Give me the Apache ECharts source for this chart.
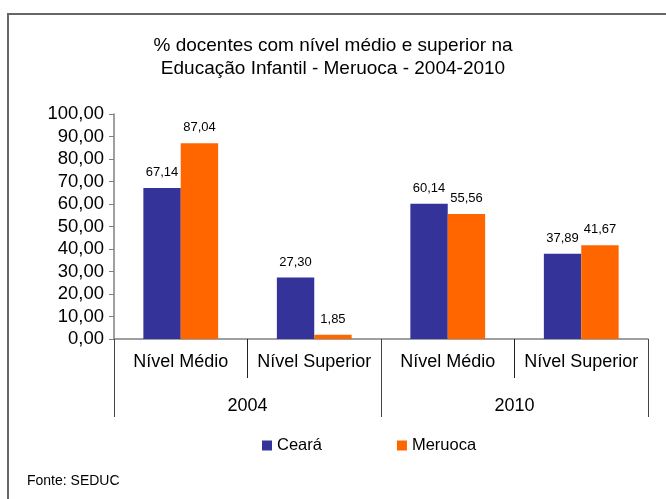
<!DOCTYPE html>
<html>
<head>
<meta charset="utf-8">
<script src="https://cdn.jsdelivr.net/npm/echarts@6/dist/echarts.min.js"></script>
<style>
html,body{margin:0;padding:0;background:#fff;}
#c{width:666px;height:499px;}
</style>
</head>
<body>
<div id="c"></div>
<script>
const categories = ['Nível Médio', 'Nível Superior', 'Nível Médio', 'Nível Superior'];
const years = ['2004', '2010'];
const cearaValues = [67.14, 27.30, 60.14, 37.89];
const meruocaValues = [87.04, 1.85, 55.56, 41.67];
const seriesNames = ['Ceará', 'Meruoca'];
const titleLines = ['% docentes com nível médio e superior na', 'Educação Infantil - Meruoca - 2004-2010'];
const sourceText = 'Fonte: SEDUC';

const FONT = '"Liberation Sans", Arial, sans-serif';
const fmt = v => v.toFixed(2).replace('.', ',');

const chart = echarts.init(document.getElementById('c'), null, {renderer: 'canvas'});
chart.setOption({
  animation: false,
  backgroundColor: '#ffffff',
  textStyle: {fontFamily: FONT, color: '#000'},
  title: {
    text: titleLines.join('\n'),
    left: 'center',
    top: 29,
    textStyle: {fontFamily: FONT, fontSize: 19, fontWeight: 'normal', color: '#000', lineHeight: 23}
  },
  legend: {
    left: 262,
    top: 437,
    padding: 0,
    itemWidth: 10,
    itemHeight: 10,
    itemGap: 75,
    icon: 'rect',
    textStyle: {fontFamily: FONT, fontSize: 16.5, color: '#000'},
    data: seriesNames
  },
  graphic: [
    {type: 'rect', shape: {x: 8, y: 14, width: 720, height: 520}, style: {fill: 'none', stroke: '#666', lineWidth: 2}, silent: true},
    {type: 'text', left: 27, top: 474, style: {text: sourceText, font: '14px ' + FONT, fill: '#000'}}
  ],
  grid: {left: 114, right: 18, top: 114, bottom: 160},
  xAxis: [
    {
      type: 'category',
      data: categories,
      position: 'bottom',
      axisLine: {show: true, lineStyle: {color: '#808080', width: 1.5}},
      axisTick: {show: true, length: 39, interval: 0, lineStyle: {color: '#222'}},
      axisLabel: {margin: 14, fontSize: 18, color: '#000', fontFamily: FONT, interval: 0}
    },
    {
      type: 'category',
      data: years,
      position: 'bottom',
      axisLine: {show: false},
      axisTick: {show: true, length: 78, interval: 0, lineStyle: {color: '#444'}},
      axisLabel: {margin: 58, fontSize: 18, color: '#000', fontFamily: FONT, interval: 0}
    }
  ],
  yAxis: {
    type: 'value',
    min: 0, max: 100, interval: 10,
    axisLine: {show: true, lineStyle: {color: '#808080', width: 1.5}},
    axisTick: {show: true, length: 5, lineStyle: {color: '#808080'}},
    splitLine: {show: false},
    axisLabel: {margin: 10, fontSize: 18.5, color: '#000', fontFamily: FONT, formatter: v => fmt(v)}
  },
  series: [
    {
      name: seriesNames[0], type: 'bar', data: cearaValues, xAxisIndex: 0,
      barCategoryGap: '44%', barGap: '0%',
      itemStyle: {color: '#333399'},
      label: {show: true, position: 'top', distance: 9, fontSize: 13, color: '#000', fontFamily: FONT, formatter: p => fmt(p.value)}
    },
    {
      name: seriesNames[1], type: 'bar', data: meruocaValues, xAxisIndex: 0,
      barCategoryGap: '44%', barGap: '0%',
      itemStyle: {color: '#FF6600'},
      label: {show: true, position: 'top', distance: 9, fontSize: 13, color: '#000', fontFamily: FONT, formatter: p => fmt(p.value)}
    }
  ]
});
</script>
</body>
</html>
